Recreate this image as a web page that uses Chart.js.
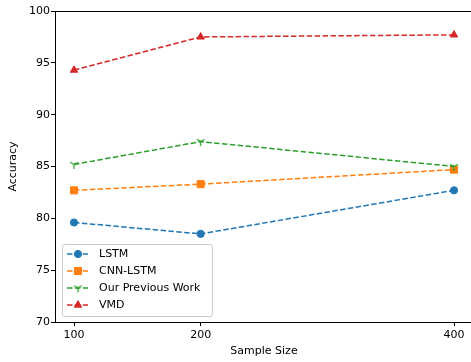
<!DOCTYPE html>
<html>
<head>
<meta charset="utf-8">
<script src="https://cdn.jsdelivr.net/npm/chart.js@4.4.1/dist/chart.umd.min.js"></script>
<style>
  html, body { margin: 0; padding: 0; background: #fff; overflow: hidden; }
  #wrap { width: 474px; height: 362px; }
</style>
</head>
<body>
<div id="wrap"><canvas id="myChart" width="474" height="362"></canvas></div>
<script>
// values
const sampleSizes = [100, 200, 400];
const lstm = [79.6, 78.5, 82.7];
const cnnLstm = [82.7, 83.3, 84.7];
const prevWork = [85.2, 87.4, 85.0];
const vmd = [94.3, 97.5, 97.7];
const seriesNames = ['LSTM', 'CNN-LSTM', 'Our Previous Work', 'VMD'];
const yTicks = [70, 75, 80, 85, 90, 95, 100];

const FONT = { family: '"DejaVu Sans", sans-serif', size: 11 };

// matplotlib "1" (tri_down) marker
function triDown(color) {
    const c = document.createElement('canvas');
    c.width = 11; c.height = 11;
    const g = c.getContext('2d');
    g.strokeStyle = color;
    g.lineWidth = 1.3;
    g.beginPath();
    g.moveTo(5.5, 5.5); g.lineTo(5.5, 10);
    g.moveTo(5.5, 5.5); g.lineTo(1.6, 3.2);
    g.moveTo(5.5, 5.5); g.lineTo(9.4, 3.2);
    g.stroke();
    return c;
}

const colors = ['#1f77b4', '#ff7f0e', '#2ca02c', '#d62728'];
const styles = [
    { pointStyle: 'circle', radius: 3.6 },
    { pointStyle: 'rect', radius: 5 },
    { pointStyle: triDown(colors[2]), radius: 5 },
    { pointStyle: 'triangle', radius: 4.3 }
];

function toPoints(arr) {
    return sampleSizes.map((s, i) => ({ x: s, y: arr[i] }));
}

const datasets = [lstm, cnnLstm, prevWork, vmd].map((arr, i) => ({
    label: seriesNames[i],
    data: toPoints(arr),
    borderColor: colors[i],
    backgroundColor: colors[i],
    borderWidth: 1.5,
    borderDash: [5.5, 2.4],
    pointStyle: styles[i].pointStyle,
    pointRadius: styles[i].radius,
    pointHoverRadius: styles[i].radius,
    pointBorderWidth: 1,
    pointBorderColor: colors[i],
    pointBackgroundColor: colors[i],
    tension: 0,
    order: 3 - i
}));

// top spine (the right one falls outside the picture)
const frame = {
    id: 'frame',
    afterDraw(chart) {
        const { ctx, chartArea: a } = chart;
        ctx.save();
        ctx.strokeStyle = '#000';
        ctx.lineWidth = 1;
        ctx.beginPath();
        ctx.moveTo(a.left, Math.round(a.top) + 0.5);
        ctx.lineTo(chart.width, Math.round(a.top) + 0.5);
        ctx.stroke();
        ctx.restore();
    }
};

const legendBox = {
    id: 'legendBox',
    afterDatasetsDraw(chart) {
        const { ctx, chartArea: a } = chart;
        const w = 150, h = 72;
        const x = a.left + 7, y = a.bottom - 6 - h;
        ctx.save();
        ctx.beginPath();
        ctx.roundRect(x + 0.5, y + 0.5, w, h, 2.5);
        ctx.fillStyle = 'rgba(255,255,255,0.8)';
        ctx.fill();
        ctx.strokeStyle = '#cccccc';
        ctx.lineWidth = 1;
        ctx.stroke();
        chart.data.datasets.forEach((ds, i) => {
            const cy = y + 10 + i * 17;
            ctx.strokeStyle = ds.borderColor;
            ctx.lineWidth = 1.5;
            ctx.setLineDash([5.5, 2.4]);
            ctx.beginPath();
            ctx.moveTo(x + 5, cy);
            ctx.lineTo(x + 26, cy);
            ctx.stroke();
            ctx.setLineDash([]);
            ctx.fillStyle = ds.pointBackgroundColor;
            ctx.lineWidth = 1;
            Chart.helpers.drawPoint(ctx, {
                pointStyle: ds.pointStyle,
                radius: ds.pointRadius,
                rotation: 0,
                borderWidth: 1
            }, x + 16, cy);
            ctx.fillStyle = '#000';
            ctx.font = '11px "DejaVu Sans", sans-serif';
            ctx.textBaseline = 'middle';
            ctx.textAlign = 'left';
            ctx.fillText(ds.label, x + 37, cy);
        });
        ctx.restore();
    }
};

const ctx = document.getElementById('myChart').getContext('2d');

const myChart = new Chart(ctx, {
    type: 'line',
    data: { datasets: datasets },
    plugins: [frame, legendBox],
    options: {
        responsive: false,
        animation: false,
        devicePixelRatio: 1,
        layout: { autoPadding: false, padding: { top: 11, right: 1, left: 0, bottom: 0 } },
        plugins: {
            legend: { display: false },
            tooltip: { enabled: false }
        },
        scales: {
            x: {
                type: 'linear',
                min: 85,
                max: 415,
                afterBuildTicks: s => { s.ticks = sampleSizes.map(v => ({ value: v })); },
                afterFit: s => { s.height = 40; },
                ticks: { color: '#000', font: FONT, padding: 3, maxRotation: 0 },
                grid: { drawOnChartArea: false, tickLength: 4, tickColor: '#000', tickWidth: 1 },
                border: { color: '#000', width: 1 },
                title: { display: true, text: 'Sample Size', color: '#000', font: FONT, padding: { top: 0, bottom: 4 } }
            },
            y: {
                min: 70,
                max: 100,
                afterBuildTicks: s => { s.ticks = yTicks.map(v => ({ value: v })); },
                afterFit: s => { s.width = 55; },
                ticks: { color: '#000', font: FONT, padding: 1 },
                grid: { drawOnChartArea: false, tickLength: 4, tickColor: '#000', tickWidth: 1 },
                border: { color: '#000', width: 1 },
                title: { display: true, text: 'Accuracy', color: '#000', font: FONT, padding: { top: 7, bottom: 0 } }
            }
        }
    }
});
</script>
</body>
</html>
